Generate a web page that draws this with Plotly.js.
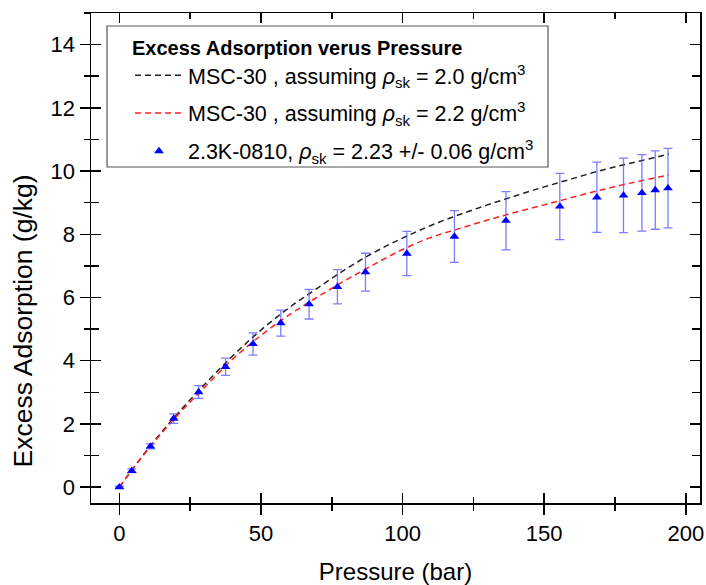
<!DOCTYPE html>
<html>
<head>
<meta charset="utf-8">
<script src="https://cdn.plot.ly/plotly-3.0.1.min.js"></script>
<style>html,body{margin:0;padding:0;background:#fff;}#chart{width:706px;height:585px;}</style>
</head>
<body>
<div id="chart"></div>
<script>
// Measured sample 2.3K-0810
const pressure = [0, 4.4, 11.0, 19.2, 28.0, 37.5, 47.2, 57.0, 67.0, 77.0, 86.9, 101.5, 118.3, 136.5, 155.5, 168.6, 178.0, 184.5, 189.2, 193.7];
const excess   = [0, 0.52, 1.29, 2.17, 3.01, 3.81, 4.53, 5.19, 5.79, 6.34, 6.80, 7.39, 7.93, 8.43, 8.88, 9.17, 9.23, 9.31, 9.40, 9.46];
const excessErr = [0.03, 0.06, 0.08, 0.15, 0.2, 0.27, 0.35, 0.41, 0.47, 0.54, 0.6, 0.7, 0.82, 0.92, 1.05, 1.11, 1.18, 1.21, 1.24, 1.26];

// MSC-30 model curves
const curvePressure = [0, 10, 20, 30, 40, 50, 60, 70, 80, 90, 100, 110, 120, 130, 140, 150, 160, 170, 180, 190, 194];
const msc30_rho20 = [0, 1.2, 2.27, 3.24, 4.15, 4.97, 5.68, 6.3, 6.9, 7.43, 7.88, 8.28, 8.62, 8.93, 9.22, 9.5, 9.76, 10.02, 10.24, 10.45, 10.54];
const msc30_rho22 = [0, 1.18, 2.22, 3.15, 4.05, 4.8, 5.45, 6.02, 6.55, 7.05, 7.52, 7.9, 8.18, 8.45, 8.7, 8.93, 9.17, 9.4, 9.61, 9.8, 9.88];

const seriesNames = [
  'MSC-30 , assuming <i>ρ</i><sub>sk</sub> = 2.0 g/cm<sup>3</sup>',
  'MSC-30 , assuming <i>ρ</i><sub>sk</sub> = 2.2 g/cm<sup>3</sup>',
  '2.3K-0810, <i>ρ</i><sub>sk</sub> = 2.23 +/- 0.06 g/cm<sup>3</sup>'
];
const legendTitle = '<b>Excess Adsorption verus Pressure</b>';
const xTitle = 'Pressure (bar)';
const yTitle = 'Excess Adsorption (g/kg)';
const xTicks = [0, 50, 100, 150, 200];
const yTicks = [0, 2, 4, 6, 8, 10, 12, 14];

const FONT = 'Liberation Sans, Arial, sans-serif';
const xRange = [-10, 205];
const yRange = [-0.5, 15];

const traces = [
  {x: curvePressure, y: msc30_rho20, mode: 'lines', name: seriesNames[0], legendgroup: 'a',
   line: {color: '#222222', width: 1.5, dash: '6px,4px', shape: 'spline'}},
  {x: curvePressure, y: msc30_rho22, mode: 'lines', name: seriesNames[1], legendgroup: 'b',
   line: {color: '#ff2020', width: 1.5, dash: '6px,4px', shape: 'spline'}},
  {x: pressure, y: excess, mode: 'markers', name: seriesNames[2], legendgroup: 'c',
   marker: {symbol: 'triangle-up', size: 8.5, color: '#0000ff'},
   error_y: {type: 'data', array: excessErr, visible: true, color: 'rgba(80,80,255,0.75)', thickness: 1.3, width: 4.5}},
  {x: [xRange[0]], y: [yRange[0]], xaxis: 'x2', yaxis: 'y2', mode: 'markers', showlegend: false,
   marker: {opacity: 0}, hoverinfo: 'skip'}
];

const axisCommon = {showgrid: false, zeroline: false, linecolor: '#000', linewidth: 1.5, tickcolor: '#000', tickwidth: 1.5};

const layout = {
  width: 706, height: 585,
  margin: {l: 91, r: 6, t: 13, b: 82},
  paper_bgcolor: '#fff', plot_bgcolor: '#fff',
  font: {family: FONT, color: '#000'},
  showlegend: true,
  xaxis: Object.assign({}, axisCommon, {
    range: xRange, tickmode: 'array', tickvals: xTicks, ticks: 'outside', ticklen: 10,
    showline: true, mirror: true, tickfont: {size: 22, family: FONT},
    minor: {tickmode: 'linear', tick0: 0, dtick: 25, ticks: 'outside', ticklen: 6, tickcolor: '#000', tickwidth: 1.5},
    title: {text: xTitle, font: {size: 24, family: FONT}, standoff: 19}
  }),
  yaxis: Object.assign({}, axisCommon, {
    range: yRange, tickmode: 'array', tickvals: yTicks, ticks: 'outside', ticklen: 10,
    showline: true, mirror: true, tickfont: {size: 22, family: FONT},
    minor: {tickmode: 'linear', tick0: 0, dtick: 1, ticks: 'outside', ticklen: 6, tickcolor: '#000', tickwidth: 1.5}
  }),
  xaxis2: Object.assign({}, axisCommon, {
    overlaying: 'x', anchor: 'y2', side: 'bottom', range: xRange, tickmode: 'array', tickvals: xTicks,
    ticks: 'inside', ticklen: 10, showline: true, mirror: 'ticks', showticklabels: false,
    minor: {tickmode: 'linear', tick0: 0, dtick: 25, ticks: 'inside', ticklen: 6, tickcolor: '#000', tickwidth: 1.5}
  }),
  yaxis2: Object.assign({}, axisCommon, {
    overlaying: 'y', anchor: 'x2', side: 'left', range: yRange, tickmode: 'array', tickvals: yTicks,
    ticks: 'inside', ticklen: 10, showline: true, mirror: 'ticks', showticklabels: false,
    minor: {tickmode: 'linear', tick0: 0, dtick: 1, ticks: 'inside', ticklen: 8, tickcolor: '#000', tickwidth: 1.5}
  }),
  annotations: [{
    text: yTitle, textangle: -90, xref: 'paper', yref: 'paper', x: -0.112, y: 0.372,
    xanchor: 'center', yanchor: 'middle', showarrow: false,
    font: {size: 26.5, family: FONT, color: '#000'}
  }],
  legend: {
    x: 0.064, y: 0.968, xanchor: 'left', yanchor: 'top',
    bgcolor: 'rgba(255,255,255,0)', borderwidth: 0,
    font: {size: 21.5, family: FONT, color: '#000'},
    title: {text: legendTitle, font: {size: 20, family: FONT, color: '#000'}},
    itemwidth: 48, traceorder: 'grouped', tracegroupgap: 7
  },
  shapes: [{
    type: 'rect', xref: 'paper', yref: 'paper', x0: 0.0263, x1: 0.7504, y0: 0.6857, y1: 0.9735,
    line: {color: '#555', width: 1.2}, fillcolor: 'rgba(255,255,255,1)', layer: 'below'
  }]
};

Plotly.newPlot('chart', traces, layout, {displayModeBar: false, staticPlot: true});
</script>
</body>
</html>
